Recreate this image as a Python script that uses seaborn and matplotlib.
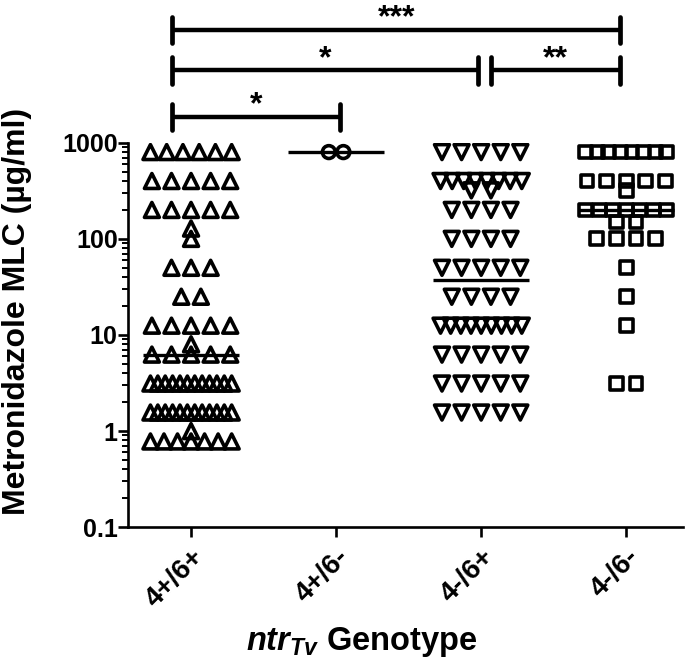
import numpy as np
import pandas as pd
import matplotlib
matplotlib.use("Agg")
import matplotlib.pyplot as plt
from matplotlib.ticker import LogLocator, NullFormatter
import seaborn as sns

# MLC values (ug/ml): one entry per row of points + how many points in that row
genotypes = ["4+/6+", "4+/6-", "4-/6+", "4-/6-"]
g1_vals = [800, 400, 200, 128, 100, 50, 25, 12.5, 8, 6.25, 3.125, 1.56, 1.0, 0.78]
g1_counts = [6, 5, 5, 1, 1, 3, 2, 5, 1, 5, 12, 12, 1, 7]
g2_vals = [800]
g2_counts = [2]
g3_vals = [800, 400, 320, 200, 100, 50, 25, 12.5, 6.25, 3.125, 1.56]
g3_counts = [5, 8, 2, 4, 4, 5, 4, 9, 5, 5, 5]
g4_vals = [800, 400, 320, 200, 150, 100, 50, 25, 12.5, 3.125]
g4_counts = [8, 5, 1, 7, 2, 4, 1, 1, 1, 2]

# significance brackets: (left group, right group, label, level)
sig_pairs = [(0, 1, "*", 1), (0, 2, "*", 2), (2, 3, "**", 2), (0, 3, "***", 3)]

# --- styling / layout ---
sns.set_style("ticks")
plt.rcParams["font.family"] = ["Liberation Sans", "DejaVu Sans"]
plt.rcParams["font.weight"] = "bold"
plt.rcParams["mathtext.fontset"] = "custom"
plt.rcParams["mathtext.it"] = "Liberation Sans:bold:italic"
plt.rcParams["mathtext.rm"] = "Liberation Sans:bold"
for k in ["text.color", "axes.labelcolor", "xtick.color", "ytick.color", "axes.edgecolor"]:
    plt.rcParams[k] = "black"

markers = ["^", "o", "v", "s"]
sizes = [115, 85, 115, 85]
spacing = [0.135, 0.1, 0.135, 0.135]
max_span = 0.56

# spread points of equal value side by side (column scatter)
rows = []
all_vals = [g1_vals, g2_vals, g3_vals, g4_vals]
all_counts = [g1_counts, g2_counts, g3_counts, g4_counts]
for gi, (vals, counts) in enumerate(zip(all_vals, all_counts)):
    for v, n in zip(vals, counts):
        step = min(spacing[gi], max_span / max(n - 1, 1))
        offs = (np.arange(n) - (n - 1) / 2) * step
        for o in offs:
            rows.append({"genotype": genotypes[gi], "mlc": v, "xpos": gi + o})
df = pd.DataFrame(rows)

fig = plt.figure(figsize=(7, 6.64), dpi=100)
ax = fig.add_axes([0.183, 0.206, 0.793, 0.579])

for gi, g in enumerate(genotypes):
    sub = df[df["genotype"] == g]
    sns.scatterplot(data=sub, x="xpos", y="mlc", marker=markers[gi], s=sizes[gi],
                    facecolor="none", edgecolor="black", linewidth=2.6,
                    legend=False, ax=ax, zorder=3)

# median lines
med = df.groupby("genotype", sort=False)["mlc"].median()
for gi, g in enumerate(genotypes):
    ax.hlines(med[g], gi - 0.33, gi + 0.33, color="black", lw=2.4, zorder=4)

ax.set_yscale("log")
ax.set_ylim(0.1, 1000)
ax.set_xlim(-0.434, 3.393)
ax.set_yticks([0.1, 1, 10, 100, 1000])
ax.set_yticklabels(["0.1", "1", "10", "100", "1000"])
ax.yaxis.set_minor_locator(LogLocator(base=10, subs=np.arange(2, 10)))
ax.yaxis.set_minor_formatter(NullFormatter())
ax.set_xticks(range(len(genotypes)))
ax.set_xticklabels(genotypes, rotation=45, ha="right", rotation_mode="anchor")

ax.tick_params(axis="both", which="major", length=7, width=1.9, labelsize=18, pad=0.5)
ax.tick_params(axis="x", which="major", pad=5, labelsize=20)
ax.tick_params(axis="y", which="minor", length=4, width=1.4)
for lab in ax.get_xticklabels() + ax.get_yticklabels():
    lab.set_fontweight("bold")

sns.despine(ax=ax)
for side in ["left", "bottom"]:
    ax.spines[side].set_linewidth(1.9)

ax.set_ylabel("Metronidazole MLC (\u00b5g/ml)", fontsize=23, fontweight="bold")
ax.yaxis.set_label_coords(-0.173, 0.56)
ax.set_xlabel(r"$ntr_{Tv}$ Genotype", fontsize=23.5, fontweight="bold")
ax.xaxis.set_label_coords(0.42, -0.255)

# significance brackets above the plot
bracket_x = [-0.13, 1.03, 2.02, 2.96]
level_y = {1: 1.068, 2: 1.188, 3: 1.294}
gap = 0.045
trans = ax.get_xaxis_transform()
for a, b, lab, lev in sig_pairs:
    x0 = bracket_x[a]
    x1 = bracket_x[b]
    for a2, b2, _, lev2 in sig_pairs:
        if lev2 == lev and b2 == a:
            x0 += gap
        if lev2 == lev and a2 == b:
            x1 -= gap
    y = level_y[lev]
    ax.plot([x0, x1], [y, y], color="black", lw=3.2, transform=trans, clip_on=False,
            solid_capstyle="butt")
    for xe in (x0, x1):
        ax.plot([xe, xe], [y - 0.034, y + 0.034], color="black", lw=3.4,
                transform=trans, clip_on=False, solid_capstyle="round")
    ax.text((x0 + x1) / 2, y + 0.03, lab, transform=trans, ha="center", va="center",
            fontsize=23, fontweight="bold")

fig.savefig("out.png", dpi=100)
